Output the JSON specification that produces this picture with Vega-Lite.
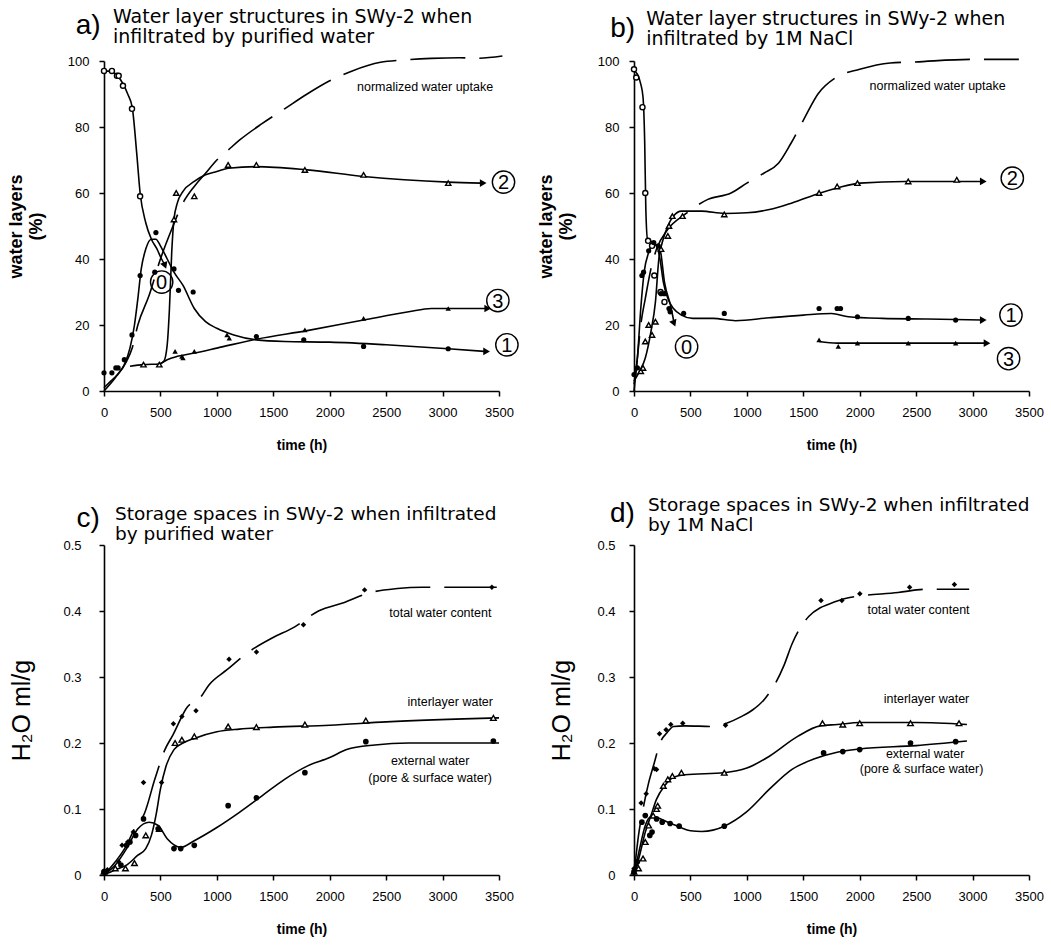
{
"$schema":"https://vega.github.io/schema/vega-lite/v6.json",
"background":"white",
"padding":{"left":7,"top":8,"right":5,"bottom":5},
"config":{
 "font":"Liberation Sans",
 "view":{"stroke":null},
 "axis":{"grid":false,"domainColor":"black","domainWidth":1.6,"tickColor":"black","tickWidth":1.5,"tickSize":5,"labelFont":"Liberation Sans","labelFontSize":13,"labelColor":"black","titleColor":"black","titleFont":"Liberation Sans","labelOverlap":false,"labelFlush":false},
 "axisX":{"labelPadding":10,"titlePadding":19,"titleFontSize":14,"titleFontWeight":"bold"}
},
"columns":2,
"spacing":{"row":44,"column":16},
"datasets":{
"lines":[
{"p":"a","s":"0","t":0,"v":97},{"p":"a","s":"0","t":60,"v":96.8},{"p":"a","s":"0","t":120,"v":95.5},{"p":"a","s":"0","t":170,"v":93},{"p":"a","s":"0","t":210,"v":90},{"p":"a","s":"0","t":250,"v":86},{"p":"a","s":"0","t":290,"v":72},{"p":"a","s":"0","t":320,"v":60},{"p":"a","s":"0","t":370,"v":51},{"p":"a","s":"0","t":420,"v":46},{"p":"a","s":"0","t":470,"v":43},{"p":"a","s":"0","t":510,"v":40},{"p":"a","s":"0","t":535,"v":38.5},
{"p":"a","s":"1","t":0,"v":1},{"p":"a","s":"1","t":60,"v":3},{"p":"a","s":"1","t":120,"v":5},{"p":"a","s":"1","t":180,"v":8},{"p":"a","s":"1","t":230,"v":13},{"p":"a","s":"1","t":270,"v":20},{"p":"a","s":"1","t":300,"v":28},{"p":"a","s":"1","t":330,"v":37},{"p":"a","s":"1","t":370,"v":43},{"p":"a","s":"1","t":420,"v":46},{"p":"a","s":"1","t":460,"v":46},{"p":"a","s":"1","t":500,"v":44},{"p":"a","s":"1","t":560,"v":40},{"p":"a","s":"1","t":620,"v":36},{"p":"a","s":"1","t":700,"v":32},{"p":"a","s":"1","t":800,"v":25},{"p":"a","s":"1","t":900,"v":21},{"p":"a","s":"1","t":1000,"v":19},{"p":"a","s":"1","t":1150,"v":17},{"p":"a","s":"1","t":1350,"v":15.5},{"p":"a","s":"1","t":1600,"v":15},{"p":"a","s":"1","t":2000,"v":14.8},{"p":"a","s":"1","t":2500,"v":14},{"p":"a","s":"1","t":3050,"v":12.8},{"p":"a","s":"1","t":3370,"v":12},
{"p":"a","s":"2","t":480,"v":8},{"p":"a","s":"2","t":530,"v":9},{"p":"a","s":"2","t":560,"v":14},{"p":"a","s":"2","t":580,"v":25},{"p":"a","s":"2","t":600,"v":42},{"p":"a","s":"2","t":620,"v":52},{"p":"a","s":"2","t":650,"v":57},{"p":"a","s":"2","t":700,"v":60.5},{"p":"a","s":"2","t":800,"v":63.5},{"p":"a","s":"2","t":900,"v":65.5},{"p":"a","s":"2","t":1000,"v":66.5},{"p":"a","s":"2","t":1100,"v":67.5},{"p":"a","s":"2","t":1350,"v":68},{"p":"a","s":"2","t":1800,"v":67},{"p":"a","s":"2","t":2300,"v":65},{"p":"a","s":"2","t":3050,"v":63.3},{"p":"a","s":"2","t":3340,"v":63},
{"p":"a","s":"3","t":230,"v":7.5},{"p":"a","s":"3","t":350,"v":8},{"p":"a","s":"3","t":490,"v":8.2},{"p":"a","s":"3","t":560,"v":9.5},{"p":"a","s":"3","t":650,"v":10.5},{"p":"a","s":"3","t":800,"v":11.5},{"p":"a","s":"3","t":1000,"v":13},{"p":"a","s":"3","t":1350,"v":15.7},{"p":"a","s":"3","t":1800,"v":18.3},{"p":"a","s":"3","t":2300,"v":21.5},{"p":"a","s":"3","t":2700,"v":24},{"p":"a","s":"3","t":2900,"v":25},{"p":"a","s":"3","t":3380,"v":25},
{"p":"a","s":"U","t":0,"v":0},{"p":"a","s":"U","t":100,"v":4},{"p":"a","s":"U","t":200,"v":9},{"p":"a","s":"U","t":250,"v":13},{"p":"a","s":"U","t":300,"v":20},{"p":"a","s":"U","t":400,"v":29},{"p":"a","s":"U","t":500,"v":40},{"p":"a","s":"U","t":600,"v":49},{"p":"a","s":"U","t":700,"v":57},{"p":"a","s":"U","t":800,"v":62},{"p":"a","s":"U","t":900,"v":66},{"p":"a","s":"U","t":1000,"v":70},{"p":"a","s":"U","t":1100,"v":73},{"p":"a","s":"U","t":1200,"v":76},{"p":"a","s":"U","t":1400,"v":81},{"p":"a","s":"U","t":1600,"v":85.5},{"p":"a","s":"U","t":1800,"v":90},{"p":"a","s":"U","t":2000,"v":94},{"p":"a","s":"U","t":2200,"v":97},{"p":"a","s":"U","t":2450,"v":99.6},{"p":"a","s":"U","t":2650,"v":100.3},{"p":"a","s":"U","t":2900,"v":100.8},{"p":"a","s":"U","t":3150,"v":101},{"p":"a","s":"U","t":3300,"v":100.8},{"p":"a","s":"U","t":3530,"v":101.5},
{"p":"b","s":"0","t":0,"v":97},{"p":"b","s":"0","t":30,"v":96},{"p":"b","s":"0","t":60,"v":93},{"p":"b","s":"0","t":80,"v":89},{"p":"b","s":"0","t":95,"v":75},{"p":"b","s":"0","t":105,"v":55},{"p":"b","s":"0","t":120,"v":46},{"p":"b","s":"0","t":170,"v":45},{"p":"b","s":"0","t":230,"v":43},{"p":"b","s":"0","t":270,"v":33},{"p":"b","s":"0","t":330,"v":25},{"p":"b","s":"0","t":350,"v":21.5},
{"p":"b","s":"1","t":0,"v":2},{"p":"b","s":"1","t":30,"v":10},{"p":"b","s":"1","t":60,"v":25},{"p":"b","s":"1","t":90,"v":36},{"p":"b","s":"1","t":130,"v":42},{"p":"b","s":"1","t":170,"v":44.5},{"p":"b","s":"1","t":200,"v":44},{"p":"b","s":"1","t":230,"v":40},{"p":"b","s":"1","t":260,"v":33},{"p":"b","s":"1","t":300,"v":28},{"p":"b","s":"1","t":350,"v":25},{"p":"b","s":"1","t":420,"v":23},{"p":"b","s":"1","t":520,"v":22},{"p":"b","s":"1","t":700,"v":22},{"p":"b","s":"1","t":900,"v":21.3},{"p":"b","s":"1","t":1200,"v":22.2},{"p":"b","s":"1","t":1500,"v":23},{"p":"b","s":"1","t":1750,"v":23.5},{"p":"b","s":"1","t":1900,"v":22.5},{"p":"b","s":"1","t":2200,"v":22},{"p":"b","s":"1","t":2600,"v":21.8},{"p":"b","s":"1","t":3080,"v":21.5},
{"p":"b","s":"2","t":0,"v":3},{"p":"b","s":"2","t":50,"v":6},{"p":"b","s":"2","t":100,"v":10},{"p":"b","s":"2","t":150,"v":18},{"p":"b","s":"2","t":190,"v":27},{"p":"b","s":"2","t":220,"v":40},{"p":"b","s":"2","t":250,"v":45},{"p":"b","s":"2","t":300,"v":50},{"p":"b","s":"2","t":350,"v":53},{"p":"b","s":"2","t":420,"v":54.5},{"p":"b","s":"2","t":600,"v":54.5},{"p":"b","s":"2","t":800,"v":53.8},{"p":"b","s":"2","t":1000,"v":54},{"p":"b","s":"2","t":1200,"v":55},{"p":"b","s":"2","t":1400,"v":57},{"p":"b","s":"2","t":1650,"v":60},{"p":"b","s":"2","t":1800,"v":61.5},{"p":"b","s":"2","t":2000,"v":63},{"p":"b","s":"2","t":2400,"v":63.5},{"p":"b","s":"2","t":3090,"v":63.5},
{"p":"b","s":"3","t":1640,"v":15},{"p":"b","s":"3","t":1800,"v":14.5},{"p":"b","s":"3","t":2000,"v":14.5},{"p":"b","s":"3","t":2500,"v":14.5},{"p":"b","s":"3","t":3120,"v":14.5},
{"p":"b","s":"U","t":0,"v":0},{"p":"b","s":"U","t":30,"v":10},{"p":"b","s":"U","t":60,"v":20},{"p":"b","s":"U","t":100,"v":28},{"p":"b","s":"U","t":150,"v":37},{"p":"b","s":"U","t":200,"v":43},{"p":"b","s":"U","t":300,"v":49},{"p":"b","s":"U","t":450,"v":53.5},{"p":"b","s":"U","t":650,"v":58},{"p":"b","s":"U","t":860,"v":60},{"p":"b","s":"U","t":1000,"v":63},{"p":"b","s":"U","t":1150,"v":66},{"p":"b","s":"U","t":1280,"v":69},{"p":"b","s":"U","t":1390,"v":75},{"p":"b","s":"U","t":1500,"v":82},{"p":"b","s":"U","t":1630,"v":90},{"p":"b","s":"U","t":1790,"v":95},{"p":"b","s":"U","t":2000,"v":97.5},{"p":"b","s":"U","t":2270,"v":99.4},{"p":"b","s":"U","t":2480,"v":99.7},{"p":"b","s":"U","t":2980,"v":100.5},{"p":"b","s":"U","t":3410,"v":100.5},
{"p":"c","s":"T","t":0,"v":0},{"p":"c","s":"T","t":100,"v":0.02},{"p":"c","s":"T","t":200,"v":0.045},{"p":"c","s":"T","t":270,"v":0.07},{"p":"c","s":"T","t":360,"v":0.094},{"p":"c","s":"T","t":450,"v":0.145},{"p":"c","s":"T","t":540,"v":0.19},{"p":"c","s":"T","t":610,"v":0.212},{"p":"c","s":"T","t":740,"v":0.255},{"p":"c","s":"T","t":850,"v":0.268},{"p":"c","s":"T","t":930,"v":0.288},{"p":"c","s":"T","t":1090,"v":0.311},{"p":"c","s":"T","t":1300,"v":0.34},{"p":"c","s":"T","t":1490,"v":0.359},{"p":"c","s":"T","t":1690,"v":0.376},{"p":"c","s":"T","t":1900,"v":0.4},{"p":"c","s":"T","t":2130,"v":0.413},{"p":"c","s":"T","t":2340,"v":0.427},{"p":"c","s":"T","t":2600,"v":0.434},{"p":"c","s":"T","t":2820,"v":0.436},{"p":"c","s":"T","t":3000,"v":0.436},{"p":"c","s":"T","t":3480,"v":0.436},
{"p":"c","s":"I","t":0,"v":0},{"p":"c","s":"I","t":100,"v":0.008},{"p":"c","s":"I","t":200,"v":0.015},{"p":"c","s":"I","t":300,"v":0.03},{"p":"c","s":"I","t":370,"v":0.04},{"p":"c","s":"I","t":420,"v":0.06},{"p":"c","s":"I","t":460,"v":0.09},{"p":"c","s":"I","t":500,"v":0.13},{"p":"c","s":"I","t":550,"v":0.165},{"p":"c","s":"I","t":620,"v":0.19},{"p":"c","s":"I","t":700,"v":0.2},{"p":"c","s":"I","t":800,"v":0.207},{"p":"c","s":"I","t":1000,"v":0.217},{"p":"c","s":"I","t":1200,"v":0.221},{"p":"c","s":"I","t":1500,"v":0.224},{"p":"c","s":"I","t":2000,"v":0.227},{"p":"c","s":"I","t":2500,"v":0.232},{"p":"c","s":"I","t":3500,"v":0.238},
{"p":"c","s":"E","t":0,"v":0},{"p":"c","s":"E","t":100,"v":0.015},{"p":"c","s":"E","t":200,"v":0.04},{"p":"c","s":"E","t":300,"v":0.07},{"p":"c","s":"E","t":400,"v":0.08},{"p":"c","s":"E","t":480,"v":0.075},{"p":"c","s":"E","t":560,"v":0.055},{"p":"c","s":"E","t":680,"v":0.042},{"p":"c","s":"E","t":800,"v":0.052},{"p":"c","s":"E","t":1000,"v":0.072},{"p":"c","s":"E","t":1200,"v":0.095},{"p":"c","s":"E","t":1400,"v":0.12},{"p":"c","s":"E","t":1600,"v":0.145},{"p":"c","s":"E","t":1800,"v":0.165},{"p":"c","s":"E","t":2000,"v":0.178},{"p":"c","s":"E","t":2150,"v":0.19},{"p":"c","s":"E","t":2400,"v":0.197},{"p":"c","s":"E","t":2700,"v":0.2},{"p":"c","s":"E","t":3500,"v":0.2},
{"p":"d","s":"T","t":0,"v":0},{"p":"d","s":"T","t":40,"v":0.06},{"p":"d","s":"T","t":80,"v":0.1},{"p":"d","s":"T","t":130,"v":0.14},{"p":"d","s":"T","t":180,"v":0.17},{"p":"d","s":"T","t":230,"v":0.2},{"p":"d","s":"T","t":290,"v":0.215},{"p":"d","s":"T","t":350,"v":0.225},{"p":"d","s":"T","t":450,"v":0.226},{"p":"d","s":"T","t":700,"v":0.225},{"p":"d","s":"T","t":820,"v":0.23},{"p":"d","s":"T","t":950,"v":0.24},{"p":"d","s":"T","t":1050,"v":0.25},{"p":"d","s":"T","t":1160,"v":0.267},{"p":"d","s":"T","t":1330,"v":0.318},{"p":"d","s":"T","t":1400,"v":0.35},{"p":"d","s":"T","t":1550,"v":0.392},{"p":"d","s":"T","t":1650,"v":0.405},{"p":"d","s":"T","t":1720,"v":0.41},{"p":"d","s":"T","t":1900,"v":0.42},{"p":"d","s":"T","t":2340,"v":0.428},{"p":"d","s":"T","t":2600,"v":0.433},{"p":"d","s":"T","t":2970,"v":0.433},
{"p":"d","s":"I","t":0,"v":0},{"p":"d","s":"I","t":50,"v":0.03},{"p":"d","s":"I","t":100,"v":0.065},{"p":"d","s":"I","t":150,"v":0.09},{"p":"d","s":"I","t":200,"v":0.115},{"p":"d","s":"I","t":270,"v":0.135},{"p":"d","s":"I","t":350,"v":0.148},{"p":"d","s":"I","t":450,"v":0.152},{"p":"d","s":"I","t":800,"v":0.155},{"p":"d","s":"I","t":1000,"v":0.162},{"p":"d","s":"I","t":1200,"v":0.18},{"p":"d","s":"I","t":1450,"v":0.21},{"p":"d","s":"I","t":1650,"v":0.226},{"p":"d","s":"I","t":1800,"v":0.228},{"p":"d","s":"I","t":2000,"v":0.231},{"p":"d","s":"I","t":2500,"v":0.231},{"p":"d","s":"I","t":2950,"v":0.228},
{"p":"d","s":"E","t":0,"v":0},{"p":"d","s":"E","t":50,"v":0.04},{"p":"d","s":"E","t":100,"v":0.075},{"p":"d","s":"E","t":150,"v":0.088},{"p":"d","s":"E","t":200,"v":0.087},{"p":"d","s":"E","t":300,"v":0.08},{"p":"d","s":"E","t":400,"v":0.073},{"p":"d","s":"E","t":500,"v":0.067},{"p":"d","s":"E","t":600,"v":0.066},{"p":"d","s":"E","t":700,"v":0.068},{"p":"d","s":"E","t":800,"v":0.074},{"p":"d","s":"E","t":1000,"v":0.096},{"p":"d","s":"E","t":1200,"v":0.13},{"p":"d","s":"E","t":1400,"v":0.16},{"p":"d","s":"E","t":1600,"v":0.176},{"p":"d","s":"E","t":1800,"v":0.186},{"p":"d","s":"E","t":2000,"v":0.191},{"p":"d","s":"E","t":2500,"v":0.196},{"p":"d","s":"E","t":2950,"v":0.203}
],
"pts":[
{"p":"a","s":"0","t":0,"v":97},{"p":"a","s":"0","t":70,"v":97},{"p":"a","s":"0","t":115,"v":95.5},{"p":"a","s":"0","t":130,"v":95.5},{"p":"a","s":"0","t":168,"v":92.5},{"p":"a","s":"0","t":248,"v":85.5},{"p":"a","s":"0","t":320,"v":59},
{"p":"a","s":"1","t":0,"v":5.5},{"p":"a","s":"1","t":70,"v":5.5},{"p":"a","s":"1","t":105,"v":7},{"p":"a","s":"1","t":125,"v":7},{"p":"a","s":"1","t":180,"v":9.5},{"p":"a","s":"1","t":248,"v":17},{"p":"a","s":"1","t":320,"v":35},{"p":"a","s":"1","t":460,"v":48},{"p":"a","s":"1","t":450,"v":36},{"p":"a","s":"1","t":620,"v":37},{"p":"a","s":"1","t":660,"v":30.5},{"p":"a","s":"1","t":790,"v":30},{"p":"a","s":"1","t":1350,"v":16.5},{"p":"a","s":"1","t":1770,"v":15.5},{"p":"a","s":"1","t":2300,"v":13.5},{"p":"a","s":"1","t":3050,"v":12.8},
{"p":"a","s":"2","t":350,"v":8},{"p":"a","s":"2","t":490,"v":8},{"p":"a","s":"2","t":620,"v":52},{"p":"a","s":"2","t":640,"v":60},{"p":"a","s":"2","t":800,"v":59},{"p":"a","s":"2","t":1100,"v":68.5},{"p":"a","s":"2","t":1350,"v":68.5},{"p":"a","s":"2","t":1780,"v":67},{"p":"a","s":"2","t":2300,"v":65.5},{"p":"a","s":"2","t":3050,"v":63},
{"p":"a","s":"3","t":630,"v":12},{"p":"a","s":"3","t":690,"v":10.5},{"p":"a","s":"3","t":700,"v":10},{"p":"a","s":"3","t":800,"v":12},{"p":"a","s":"3","t":1090,"v":17},{"p":"a","s":"3","t":1110,"v":16},{"p":"a","s":"3","t":1780,"v":18.5},{"p":"a","s":"3","t":2300,"v":22},{"p":"a","s":"3","t":3050,"v":25},
{"p":"b","s":"0","t":0,"v":97.5},{"p":"b","s":"0","t":20,"v":95},{"p":"b","s":"0","t":75,"v":86},{"p":"b","s":"0","t":100,"v":60},{"p":"b","s":"0","t":125,"v":45.5},{"p":"b","s":"0","t":160,"v":44},{"p":"b","s":"0","t":180,"v":35},{"p":"b","s":"0","t":235,"v":30},{"p":"b","s":"0","t":270,"v":27},
{"p":"b","s":"1","t":0,"v":5},{"p":"b","s":"1","t":30,"v":7},{"p":"b","s":"1","t":70,"v":35},{"p":"b","s":"1","t":85,"v":36},{"p":"b","s":"1","t":130,"v":42.5},{"p":"b","s":"1","t":175,"v":45},{"p":"b","s":"1","t":215,"v":44},{"p":"b","s":"1","t":240,"v":29.5},{"p":"b","s":"1","t":270,"v":29.5},{"p":"b","s":"1","t":310,"v":25},{"p":"b","s":"1","t":320,"v":24},{"p":"b","s":"1","t":440,"v":23.5},{"p":"b","s":"1","t":800,"v":23.5},{"p":"b","s":"1","t":1640,"v":25},{"p":"b","s":"1","t":1800,"v":25},{"p":"b","s":"1","t":1830,"v":25},{"p":"b","s":"1","t":1980,"v":22.5},{"p":"b","s":"1","t":2430,"v":22},{"p":"b","s":"1","t":2850,"v":21.5},
{"p":"b","s":"2","t":60,"v":6},{"p":"b","s":"2","t":80,"v":7},{"p":"b","s":"2","t":100,"v":15},{"p":"b","s":"2","t":130,"v":20},{"p":"b","s":"2","t":160,"v":17},{"p":"b","s":"2","t":190,"v":21},{"p":"b","s":"2","t":240,"v":43},{"p":"b","s":"2","t":300,"v":47},{"p":"b","s":"2","t":310,"v":50},{"p":"b","s":"2","t":340,"v":53},{"p":"b","s":"2","t":430,"v":53},{"p":"b","s":"2","t":800,"v":53.5},{"p":"b","s":"2","t":1640,"v":60},{"p":"b","s":"2","t":1800,"v":62},{"p":"b","s":"2","t":1980,"v":63},{"p":"b","s":"2","t":2430,"v":63.5},{"p":"b","s":"2","t":2860,"v":64},
{"p":"b","s":"3","t":1640,"v":15.5},{"p":"b","s":"3","t":1810,"v":13.5},{"p":"b","s":"3","t":1980,"v":14.5},{"p":"b","s":"3","t":2430,"v":14.5},{"p":"b","s":"3","t":2850,"v":14.5},
{"p":"c","s":"T","t":0,"v":0.005},{"p":"c","s":"T","t":30,"v":0.008},{"p":"c","s":"T","t":130,"v":0.02},{"p":"c","s":"T","t":160,"v":0.045},{"p":"c","s":"T","t":210,"v":0.05},{"p":"c","s":"T","t":260,"v":0.065},{"p":"c","s":"T","t":350,"v":0.14},{"p":"c","s":"T","t":510,"v":0.14},{"p":"c","s":"T","t":615,"v":0.229},{"p":"c","s":"T","t":690,"v":0.24},{"p":"c","s":"T","t":815,"v":0.249},{"p":"c","s":"T","t":1108,"v":0.327},{"p":"c","s":"T","t":1351,"v":0.338},{"p":"c","s":"T","t":1767,"v":0.379},{"p":"c","s":"T","t":2309,"v":0.432},{"p":"c","s":"T","t":3437,"v":0.436},
{"p":"c","s":"I","t":0,"v":0.005},{"p":"c","s":"I","t":100,"v":0.01},{"p":"c","s":"I","t":190,"v":0.01},{"p":"c","s":"I","t":270,"v":0.018},{"p":"c","s":"I","t":370,"v":0.06},{"p":"c","s":"I","t":490,"v":0.07},{"p":"c","s":"I","t":630,"v":0.2},{"p":"c","s":"I","t":690,"v":0.205},{"p":"c","s":"I","t":800,"v":0.21},{"p":"c","s":"I","t":1100,"v":0.225},{"p":"c","s":"I","t":1350,"v":0.224},{"p":"c","s":"I","t":1780,"v":0.228},{"p":"c","s":"I","t":2320,"v":0.234},{"p":"c","s":"I","t":3450,"v":0.238},
{"p":"c","s":"E","t":0,"v":0.005},{"p":"c","s":"E","t":150,"v":0.015},{"p":"c","s":"E","t":200,"v":0.045},{"p":"c","s":"E","t":230,"v":0.05},{"p":"c","s":"E","t":280,"v":0.06},{"p":"c","s":"E","t":350,"v":0.085},{"p":"c","s":"E","t":480,"v":0.07},{"p":"c","s":"E","t":620,"v":0.04},{"p":"c","s":"E","t":680,"v":0.04},{"p":"c","s":"E","t":800,"v":0.045},{"p":"c","s":"E","t":1100,"v":0.105},{"p":"c","s":"E","t":1350,"v":0.117},{"p":"c","s":"E","t":1780,"v":0.155},{"p":"c","s":"E","t":2320,"v":0.202},{"p":"c","s":"E","t":3450,"v":0.203},
{"p":"d","s":"T","t":0,"v":0.01},{"p":"d","s":"T","t":20,"v":0.015},{"p":"d","s":"T","t":63,"v":0.109},{"p":"d","s":"T","t":108,"v":0.123},{"p":"d","s":"T","t":182,"v":0.161},{"p":"d","s":"T","t":200,"v":0.16},{"p":"d","s":"T","t":226,"v":0.214},{"p":"d","s":"T","t":284,"v":0.22},{"p":"d","s":"T","t":326,"v":0.228},{"p":"d","s":"T","t":432,"v":0.23},{"p":"d","s":"T","t":811,"v":0.227},{"p":"d","s":"T","t":1657,"v":0.416},{"p":"d","s":"T","t":1842,"v":0.416},{"p":"d","s":"T","t":2001,"v":0.426},{"p":"d","s":"T","t":2442,"v":0.436},{"p":"d","s":"T","t":2839,"v":0.44},
{"p":"d","s":"I","t":0,"v":0.005},{"p":"d","s":"I","t":40,"v":0.01},{"p":"d","s":"I","t":80,"v":0.025},{"p":"d","s":"I","t":100,"v":0.05},{"p":"d","s":"I","t":130,"v":0.075},{"p":"d","s":"I","t":170,"v":0.09},{"p":"d","s":"I","t":200,"v":0.1},{"p":"d","s":"I","t":210,"v":0.105},{"p":"d","s":"I","t":260,"v":0.135},{"p":"d","s":"I","t":300,"v":0.145},{"p":"d","s":"I","t":340,"v":0.15},{"p":"d","s":"I","t":420,"v":0.155},{"p":"d","s":"I","t":800,"v":0.155},{"p":"d","s":"I","t":1670,"v":0.23},{"p":"d","s":"I","t":1850,"v":0.228},{"p":"d","s":"I","t":2000,"v":0.23},{"p":"d","s":"I","t":2450,"v":0.23},{"p":"d","s":"I","t":2880,"v":0.23},
{"p":"d","s":"E","t":0,"v":0.005},{"p":"d","s":"E","t":30,"v":0.02},{"p":"d","s":"E","t":70,"v":0.08},{"p":"d","s":"E","t":100,"v":0.09},{"p":"d","s":"E","t":140,"v":0.06},{"p":"d","s":"E","t":160,"v":0.065},{"p":"d","s":"E","t":200,"v":0.085},{"p":"d","s":"E","t":250,"v":0.08},{"p":"d","s":"E","t":320,"v":0.078},{"p":"d","s":"E","t":400,"v":0.074},{"p":"d","s":"E","t":800,"v":0.074},{"p":"d","s":"E","t":1680,"v":0.185},{"p":"d","s":"E","t":1850,"v":0.187},{"p":"d","s":"E","t":2000,"v":0.19},{"p":"d","s":"E","t":2450,"v":0.2},{"p":"d","s":"E","t":2850,"v":0.202}
],
"arrows":[
{"p":"a","t":3360,"v":63},{"p":"a","t":3400,"v":25},{"p":"a","t":3390,"v":12},
{"p":"b","t":3095,"v":63.5},{"p":"b","t":3095,"v":21.5},{"p":"b","t":3128,"v":14.5}
],
"arrowsDiag":[
{"p":"a","t":540,"v":38},{"p":"b","t":355,"v":20.5}
],
"circ":[
{"p":"a","n":"0","t":511,"v":33},{"p":"a","n":"1","t":3570,"v":14},{"p":"a","n":"2","t":3540,"v":63.3},{"p":"a","n":"3","t":3490,"v":27.4},
{"p":"b","n":"0","t":466,"v":13.4},{"p":"b","n":"1","t":3340,"v":23},{"p":"b","n":"2","t":3352,"v":64.5},{"p":"b","n":"3","t":3319,"v":9.8}
],
"notes":[
{"p":"a","label":"normalized water uptake","t":2845,"v":92},
{"p":"b","label":"normalized water uptake","t":2690,"v":92.4},
{"p":"c","label":"total water content","t":2980,"v":0.397},
{"p":"c","label":"interlayer water","t":3068,"v":0.262},
{"p":"c","label":"external water","t":2890,"v":0.172},
{"p":"c","label":"(pore & surface water)","t":2890,"v":0.147},
{"p":"d","label":"total water content","t":2521,"v":0.401},
{"p":"d","label":"interlayer water","t":2592,"v":0.267},
{"p":"d","label":"external water","t":2580,"v":0.184},
{"p":"d","label":"(pore & surface water)","t":2548,"v":0.161}
],
"letters":[
{"p":"a","label":"a)","t":-140,"v":110.6},
{"p":"b","label":"b)","t":-101,"v":109.6},
{"p":"c","label":"c)","t":-141,"v":0.539},
{"p":"d","label":"d)","t":-103,"v":0.547}
],
"heads":[
{"p":"a","label":"Water layer structures in SWy-2 when\ninfiltrated by purified water","t":80,"v":116},
{"p":"b","label":"Water layer structures in SWy-2 when\ninfiltrated by 1M NaCl","t":108,"v":115.5},
{"p":"c","label":"Storage spaces in SWy-2 when infiltrated\nby purified water","t":97,"v":0.561},
{"p":"d","label":"Storage spaces in SWy-2  when infiltrated\nby 1M NaCl","t":123,"v":0.574}
]
},
"concat":[
{
 "width":395,"height":330,
 "encoding":{
  "x":{"field":"t","type":"quantitative","scale":{"domain":[0,3500],"nice":false,"zero":false},"axis":{"values":[0,500,1000,1500,2000,2500,3000,3500],"format":"d","title":"time (h)"}},
  "y":{"field":"v","type":"quantitative","scale":{"domain":[0,100],"nice":false},"axis":{"values":[0,20,40,60,80,100],"title":["water layers","(%)"],"titleFontWeight":"bold","titleFontSize":18,"labelPadding":10,"titlePadding":22}}
 },
 "layer":[
  {"data":{"name":"lines"},"transform":[{"filter":"datum.p=='a' && datum.s!='U'"}],"mark":{"type":"line","color":"black","strokeWidth":1.6,"interpolate":"monotone"},"encoding":{"detail":{"field":"s"}}},
  {"data":{"name":"lines"},"transform":[{"filter":"datum.p=='a' && datum.s=='U'"}],"mark":{"type":"line","color":"black","strokeWidth":1.6,"interpolate":"monotone","strokeDash":[55,14]},"encoding":{}},
  {"data":{"name":"pts"},"transform":[{"filter":"datum.p=='a' && (datum.s=='0' || datum.s=='2')"}],"mark":{"type":"point","filled":false,"fill":"white","stroke":"black","strokeWidth":1.4,"opacity":1},"encoding":{"shape":{"field":"s","type":"nominal","scale":{"domain":["0","1","2","3","T","I","E"],"range":["circle","circle","triangle-up","triangle-up","diamond","triangle-up","circle"]},"legend":null},"size":{"field":"s","type":"ordinal","scale":{"domain":["0","1","2","3","T","I","E"],"range":[26,32,55,55,65,55,16]},"legend":null}}},
  {"data":{"name":"pts"},"transform":[{"filter":"datum.p=='a' && (datum.s=='1' || datum.s=='3')"}],"mark":{"type":"point","filled":true,"color":"black","opacity":1},"encoding":{"shape":{"field":"s","type":"nominal","scale":{"domain":["0","1","2","3","T","I","E"],"range":["circle","circle","triangle-up","triangle-up","diamond","triangle-up","circle"]},"legend":null},"size":{"field":"s","type":"ordinal","scale":{"domain":["0","1","2","3","T","I","E"],"range":[26,32,55,55,65,55,16]},"legend":null}}},
  {"data":{"name":"arrows"},"transform":[{"filter":"datum.p=='a'"}],"mark":{"type":"point","shape":"triangle-right","filled":true,"color":"black","size":60,"opacity":1},"encoding":{}},
  {"data":{"name":"arrowsDiag"},"transform":[{"filter":"datum.p=='a'"}],"mark":{"type":"point","shape":"triangle-down","filled":true,"color":"black","size":60,"opacity":1,"angle":-21},"encoding":{}},
  {"data":{"name":"circ"},"transform":[{"filter":"datum.p=='a'"}],"mark":{"type":"point","shape":"circle","filled":false,"stroke":"black","strokeWidth":1.4,"size":500,"opacity":1},"encoding":{}},
  {"data":{"name":"circ"},"transform":[{"filter":"datum.p=='a'"}],"mark":{"type":"text","fontSize":20,"font":"Liberation Sans","baseline":"middle","align":"center","dy":1,"color":"black"},"encoding":{"text":{"field":"n"}}},
  {"data":{"name":"notes"},"transform":[{"filter":"datum.p=='a'"}],"mark":{"type":"text","fontSize":12.5,"font":"Liberation Sans","baseline":"middle","align":"center","color":"black"},"encoding":{"text":{"field":"label"}}},
  {"data":{"name":"letters"},"transform":[{"filter":"datum.p=='a'"}],"mark":{"type":"text","fontSize":28,"font":"Liberation Sans","baseline":"middle","align":"center","color":"black"},"encoding":{"text":{"field":"label"}}},
  {"data":{"name":"heads"},"transform":[{"filter":"datum.p=='a'"}],"mark":{"type":"text","fontSize":19,"font":"DejaVu Sans","baseline":"top","align":"left","lineBreak":"\n","lineHeight":20,"color":"black"},"encoding":{"text":{"field":"label"}}}
 ]
},
{
 "width":395,"height":330,
 "encoding":{
  "x":{"field":"t","type":"quantitative","scale":{"domain":[0,3500],"nice":false,"zero":false},"axis":{"values":[0,500,1000,1500,2000,2500,3000,3500],"format":"d","title":"time (h)"}},
  "y":{"field":"v","type":"quantitative","scale":{"domain":[0,100],"nice":false},"axis":{"values":[0,20,40,60,80,100],"title":["water layers","(%)"],"titleFontWeight":"bold","titleFontSize":18,"labelPadding":10,"titlePadding":22}}
 },
 "layer":[
  {"data":{"name":"lines"},"transform":[{"filter":"datum.p=='b' && datum.s!='U'"}],"mark":{"type":"line","color":"black","strokeWidth":1.6,"interpolate":"monotone"},"encoding":{"detail":{"field":"s"}}},
  {"data":{"name":"lines"},"transform":[{"filter":"datum.p=='b' && datum.s=='U'"}],"mark":{"type":"line","color":"black","strokeWidth":1.6,"interpolate":"monotone","strokeDash":[55,14]},"encoding":{}},
  {"data":{"name":"pts"},"transform":[{"filter":"datum.p=='b' && (datum.s=='0' || datum.s=='2')"}],"mark":{"type":"point","filled":false,"fill":"white","stroke":"black","strokeWidth":1.4,"opacity":1},"encoding":{"shape":{"field":"s","type":"nominal","scale":{"domain":["0","1","2","3","T","I","E"],"range":["circle","circle","triangle-up","triangle-up","diamond","triangle-up","circle"]},"legend":null},"size":{"field":"s","type":"ordinal","scale":{"domain":["0","1","2","3","T","I","E"],"range":[26,32,55,55,65,55,16]},"legend":null}}},
  {"data":{"name":"pts"},"transform":[{"filter":"datum.p=='b' && (datum.s=='1' || datum.s=='3')"}],"mark":{"type":"point","filled":true,"color":"black","opacity":1},"encoding":{"shape":{"field":"s","type":"nominal","scale":{"domain":["0","1","2","3","T","I","E"],"range":["circle","circle","triangle-up","triangle-up","diamond","triangle-up","circle"]},"legend":null},"size":{"field":"s","type":"ordinal","scale":{"domain":["0","1","2","3","T","I","E"],"range":[26,32,55,55,65,55,16]},"legend":null}}},
  {"data":{"name":"arrows"},"transform":[{"filter":"datum.p=='b'"}],"mark":{"type":"point","shape":"triangle-right","filled":true,"color":"black","size":60,"opacity":1},"encoding":{}},
  {"data":{"name":"arrowsDiag"},"transform":[{"filter":"datum.p=='b'"}],"mark":{"type":"point","shape":"triangle-down","filled":true,"color":"black","size":60,"opacity":1,"angle":-22},"encoding":{}},
  {"data":{"name":"circ"},"transform":[{"filter":"datum.p=='b'"}],"mark":{"type":"point","shape":"circle","filled":false,"stroke":"black","strokeWidth":1.4,"size":500,"opacity":1},"encoding":{}},
  {"data":{"name":"circ"},"transform":[{"filter":"datum.p=='b'"}],"mark":{"type":"text","fontSize":20,"font":"Liberation Sans","baseline":"middle","align":"center","dy":1,"color":"black"},"encoding":{"text":{"field":"n"}}},
  {"data":{"name":"notes"},"transform":[{"filter":"datum.p=='b'"}],"mark":{"type":"text","fontSize":12.5,"font":"Liberation Sans","baseline":"middle","align":"center","color":"black"},"encoding":{"text":{"field":"label"}}},
  {"data":{"name":"letters"},"transform":[{"filter":"datum.p=='b'"}],"mark":{"type":"text","fontSize":28,"font":"Liberation Sans","baseline":"middle","align":"center","color":"black"},"encoding":{"text":{"field":"label"}}},
  {"data":{"name":"heads"},"transform":[{"filter":"datum.p=='b'"}],"mark":{"type":"text","fontSize":19,"font":"DejaVu Sans","baseline":"top","align":"left","lineBreak":"\n","lineHeight":20,"color":"black"},"encoding":{"text":{"field":"label"}}}
 ]
},
{
 "width":395,"height":330,
 "encoding":{
  "x":{"field":"t","type":"quantitative","scale":{"domain":[0,3500],"nice":false,"zero":false},"axis":{"values":[0,500,1000,1500,2000,2500,3000,3500],"format":"d","title":"time (h)"}},
  "y":{"field":"v","type":"quantitative","scale":{"domain":[0,0.5],"nice":false},"axis":{"values":[0,0.1,0.2,0.3,0.4,0.5],"format":".1~f","title":"H₂O ml/g","titleFontWeight":"normal","titleFontSize":25,"labelPadding":18,"titlePadding":28}}
 },
 "layer":[
  {"data":{"name":"lines"},"transform":[{"filter":"datum.p=='c' && datum.s!='T'"}],"mark":{"type":"line","color":"black","strokeWidth":1.6,"interpolate":"monotone"},"encoding":{"detail":{"field":"s"}}},
  {"data":{"name":"lines"},"transform":[{"filter":"datum.p=='c' && datum.s=='T'"}],"mark":{"type":"line","color":"black","strokeWidth":1.6,"interpolate":"monotone","strokeDash":[55,14]},"encoding":{}},
  {"data":{"name":"pts"},"transform":[{"filter":"datum.p=='c' && datum.s=='I'"}],"mark":{"type":"point","filled":false,"fill":"white","stroke":"black","strokeWidth":1.4,"opacity":1},"encoding":{"shape":{"field":"s","type":"nominal","scale":{"domain":["0","1","2","3","T","I","E"],"range":["circle","circle","triangle-up","triangle-up","diamond","triangle-up","circle"]},"legend":null},"size":{"field":"s","type":"ordinal","scale":{"domain":["0","1","2","3","T","I","E"],"range":[26,32,55,55,65,55,16]},"legend":null}}},
  {"data":{"name":"pts"},"transform":[{"filter":"datum.p=='c' && (datum.s=='T' || datum.s=='E')"}],"mark":{"type":"point","filled":true,"color":"black","opacity":1},"encoding":{"shape":{"field":"s","type":"nominal","scale":{"domain":["0","1","2","3","T","I","E"],"range":["circle","circle","triangle-up","triangle-up","diamond","triangle-up","circle"]},"legend":null},"size":{"field":"s","type":"ordinal","scale":{"domain":["0","1","2","3","T","I","E"],"range":[26,32,55,55,65,55,16]},"legend":null}}},
  {"data":{"name":"notes"},"transform":[{"filter":"datum.p=='c'"}],"mark":{"type":"text","fontSize":12.5,"font":"Liberation Sans","baseline":"middle","align":"center","color":"black"},"encoding":{"text":{"field":"label"}}},
  {"data":{"name":"letters"},"transform":[{"filter":"datum.p=='c'"}],"mark":{"type":"text","fontSize":28,"font":"Liberation Sans","baseline":"middle","align":"center","color":"black"},"encoding":{"text":{"field":"label"}}},
  {"data":{"name":"heads"},"transform":[{"filter":"datum.p=='c'"}],"mark":{"type":"text","fontSize":18.5,"font":"DejaVu Sans","baseline":"top","align":"left","lineBreak":"\n","lineHeight":20,"color":"black"},"encoding":{"text":{"field":"label"}}}
 ]
},
{
 "width":395,"height":330,
 "encoding":{
  "x":{"field":"t","type":"quantitative","scale":{"domain":[0,3500],"nice":false,"zero":false},"axis":{"values":[0,500,1000,1500,2000,2500,3000,3500],"format":"d","title":"time (h)"}},
  "y":{"field":"v","type":"quantitative","scale":{"domain":[0,0.5],"nice":false},"axis":{"values":[0,0.1,0.2,0.3,0.4,0.5],"format":".1~f","title":"H₂O ml/g","titleFontWeight":"normal","titleFontSize":25,"labelPadding":14,"titlePadding":22}}
 },
 "layer":[
  {"data":{"name":"lines"},"transform":[{"filter":"datum.p=='d' && datum.s!='T'"}],"mark":{"type":"line","color":"black","strokeWidth":1.6,"interpolate":"monotone"},"encoding":{"detail":{"field":"s"}}},
  {"data":{"name":"lines"},"transform":[{"filter":"datum.p=='d' && datum.s=='T'"}],"mark":{"type":"line","color":"black","strokeWidth":1.6,"interpolate":"monotone","strokeDash":[55,14]},"encoding":{}},
  {"data":{"name":"pts"},"transform":[{"filter":"datum.p=='d' && datum.s=='I'"}],"mark":{"type":"point","filled":false,"fill":"white","stroke":"black","strokeWidth":1.4,"opacity":1},"encoding":{"shape":{"field":"s","type":"nominal","scale":{"domain":["0","1","2","3","T","I","E"],"range":["circle","circle","triangle-up","triangle-up","diamond","triangle-up","circle"]},"legend":null},"size":{"field":"s","type":"ordinal","scale":{"domain":["0","1","2","3","T","I","E"],"range":[26,32,55,55,65,55,16]},"legend":null}}},
  {"data":{"name":"pts"},"transform":[{"filter":"datum.p=='d' && (datum.s=='T' || datum.s=='E')"}],"mark":{"type":"point","filled":true,"color":"black","opacity":1},"encoding":{"shape":{"field":"s","type":"nominal","scale":{"domain":["0","1","2","3","T","I","E"],"range":["circle","circle","triangle-up","triangle-up","diamond","triangle-up","circle"]},"legend":null},"size":{"field":"s","type":"ordinal","scale":{"domain":["0","1","2","3","T","I","E"],"range":[26,32,55,55,65,55,16]},"legend":null}}},
  {"data":{"name":"notes"},"transform":[{"filter":"datum.p=='d'"}],"mark":{"type":"text","fontSize":12.5,"font":"Liberation Sans","baseline":"middle","align":"center","color":"black"},"encoding":{"text":{"field":"label"}}},
  {"data":{"name":"letters"},"transform":[{"filter":"datum.p=='d'"}],"mark":{"type":"text","fontSize":28,"font":"Liberation Sans","baseline":"middle","align":"center","color":"black"},"encoding":{"text":{"field":"label"}}},
  {"data":{"name":"heads"},"transform":[{"filter":"datum.p=='d'"}],"mark":{"type":"text","fontSize":18.5,"font":"DejaVu Sans","baseline":"top","align":"left","lineBreak":"\n","lineHeight":20,"color":"black"},"encoding":{"text":{"field":"label"}}}
 ]
}
]
}
